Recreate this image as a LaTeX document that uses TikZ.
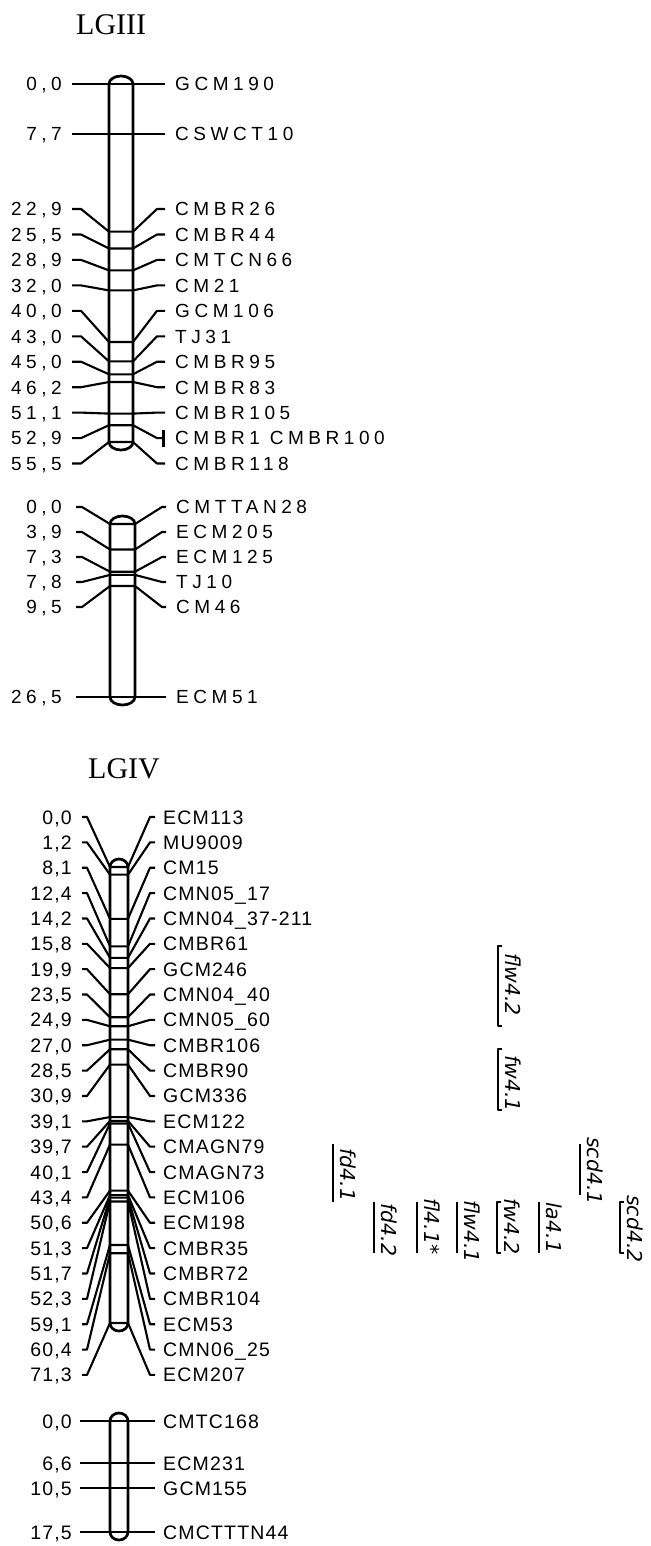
\documentclass[tikz,border=0pt]{standalone}
\usepackage{fontspec}
\setmainfont{Liberation Serif}
\newfontfamily\labIII[LetterSpace=24]{Liberation Sans}
\newfontfamily\labIV[LetterSpace=6]{Liberation Sans}
\newfontfamily\qtlf{DejaVu Sans}
\newcommand\chromo[5]{%
  \draw[chr] (#1,-#3) -- (#1,-#4)
    arc[start angle=180, end angle=360, x radius={(#2-#1)/2}, y radius=#5]
    -- (#2,-#3)
    arc[start angle=0, end angle=180, x radius={(#2-#1)/2}, y radius=#5] -- cycle;}
\newcommand\mkr[6]{%
  \node[#6, anchor=east] (#1L) at (\TL,{-(#2)}) {#4};
  \node[#6, anchor=west] (#1R) at (\TR,{-(#2)}) {#5};
  \coordinate (#1a) at (\XLo,{-(#2)});
  \coordinate (#1b) at (\XRo,{-(#2)});
  \draw[mline] (#1a) -- (\XLb,{-(#2)}) -- (\XCa,{-(#3)}) -- (\XCb,{-(#3)}) -- (\XRb,{-(#2)}) -- (#1b);}
\newcommand\qtl[6]{%
  \coordinate (#1t) at (#2,-#3);
  \coordinate (#1b) at (#2,-#4);
  \draw[qbar] (#1t) -- (#1b);
  \node[qtext, anchor=base west, rotate=-90] (#1) at ({#2+7},-#5) {#6};}
\newcommand\qtlb[6]{%
  \coordinate (#1t) at (#2,-#3);
  \coordinate (#1b) at (#2,-#4);
  \draw[qbar] ([xshift=4pt]#1t) -- (#1t) -- (#1b) -- ([xshift=4pt]#1b);
  \node[qtext, anchor=base west, rotate=-90] (#1) at ({#2+7},-#5) {#6};}
\begin{document}
\begin{tikzpicture}[x=1pt,y=1pt,line join=round,
  chr/.style={line width=2.7pt},
  mline/.style={line width=2.1pt},
  qbar/.style={line width=2.2pt},
  labA/.style={font=\labIII\fontsize{19}{21}\selectfont, inner sep=0pt, text height=13.6pt, text depth=0pt, text=black},
  labB/.style={font=\labIV\fontsize{19.5}{21}\selectfont, inner sep=0pt, text height=14pt, text depth=0pt, text=black},
  qtext/.style={font=\qtlf\itshape\fontsize{20.5}{24}\selectfont, inner sep=0pt},
  title/.style={font=\fontsize{30}{32}\selectfont, inner sep=0pt, anchor=base west}]
\useasboundingbox (0,0) rectangle (650,-1546);
\fill[white] (0,0) rectangle (650,-1546);
% titles
\node[title] (t3) at (76,-35) {LGIII};
\node[title] (t4) at (88,-778) {LGIV};
% ---------- LGIII, group 1
\def\XLo{72}\def\XLb{81}\def\XCa{109}\def\XCb{133}\def\XRb{157}\def\XRo{165}\def\TL{62}\def\TR{175}
\mkr{a1}{84}{84}{0,0}{GCM190}{labA}
\mkr{a2}{133.7}{133.7}{7,7}{CSWCT10}{labA}
\mkr{a3}{209}{231.7}{22,9}{CMBR26}{labA}
\mkr{a4}{234.5}{248.5}{25,5}{CMBR44}{labA}
\mkr{a5}{259.9}{270.4}{28,9}{CMTCN66}{labA}
\mkr{a6}{285.4}{290.4}{32,0}{CM21}{labA}
\mkr{a7}{310.8}{342}{40,0}{GCM106}{labA}
\mkr{a8}{336.3}{361.4}{43,0}{TJ31}{labA}
\mkr{a9}{361.7}{374.3}{45,0}{CMBR95}{labA}
\mkr{a10}{387.2}{382}{46,2}{CMBR83}{labA}
\mkr{a11}{412.6}{413.6}{51,1}{CMBR105}{labA}
\def\XRo{163}
\mkr{a12}{438.1}{425.2}{52,9}{CMBR1 CMBR100}{labA}
\coordinate (tk1) at (163.5,-430);
\coordinate (tk2) at (163.5,-447);
\draw[mline] (tk1) -- (tk2);
\def\XRo{165}
\mkr{a13}{463.5}{442}{55,5}{CMBR118}{labA}
\chromo{109}{133}{84}{442}{8}
% ---------- LGIII, group 2
\def\XLo{76}\def\XLb{82}\def\XCa{110}\def\XCb{135}\def\XRb{162}\def\XRo{166}\def\TL{62}\def\TR{176}
\mkr{b1}{507}{524}{0,0}{CMTTAN28}{labA}
\mkr{b2}{532}{549.5}{3,9}{ECM205}{labA}
\mkr{b3}{557}{571.7}{7,3}{ECM125}{labA}
\mkr{b4}{582}{574.9}{7,8}{TJ10}{labA}
\mkr{b5}{607}{586}{9,5}{CM46}{labA}
\mkr{b6}{697}{697}{26,5}{ECM51}{labA}
\chromo{110}{135}{524}{697}{8}
% ---------- LGIV, group 1
\def\XLo{82}\def\XLb{87}\def\XCa{110}\def\XCb{128}\def\XRb{150}\def\XRo{155}\def\TL{72}\def\TR{163}
\mkr{c0}{817+25.36*0}{867+6.395*0}{0,0}{ECM113}{labB}
\mkr{c1}{817+25.36*1}{867+6.395*1.2}{1,2}{MU9009}{labB}
\mkr{c2}{817+25.36*2}{867+6.395*8.1}{8,1}{CM15}{labB}
\mkr{c3}{817+25.36*3}{867+6.395*12.4}{12,4}{CMN05\_17}{labB}
\mkr{c4}{817+25.36*4}{867+6.395*14.2}{14,2}{CMN04\_37-211}{labB}
\mkr{c5}{817+25.36*5}{867+6.395*15.8}{15,8}{CMBR61}{labB}
\mkr{c6}{817+25.36*6}{867+6.395*19.9}{19,9}{GCM246}{labB}
\mkr{c7}{817+25.36*7}{867+6.395*23.5}{23,5}{CMN04\_40}{labB}
\mkr{c8}{817+25.36*8}{867+6.395*24.9}{24,9}{CMN05\_60}{labB}
\mkr{c9}{817+25.36*9}{867+6.395*27.0}{27,0}{CMBR106}{labB}
\mkr{c10}{817+25.36*10}{867+6.395*28.5}{28,5}{CMBR90}{labB}
\mkr{c11}{817+25.36*11}{867+6.395*30.9}{30,9}{GCM336}{labB}
\mkr{c12}{817+25.36*12}{867+6.395*39.1}{39,1}{ECM122}{labB}
\mkr{c13}{817+25.36*13}{867+6.395*39.7}{39,7}{CMAGN79}{labB}
\mkr{c14}{817+25.36*14}{867+6.395*40.1}{40,1}{CMAGN73}{labB}
\mkr{c15}{817+25.36*15}{867+6.395*43.4}{43,4}{ECM106}{labB}
\mkr{c16}{817+25.36*16}{867+6.395*50.6}{50,6}{ECM198}{labB}
\mkr{c17}{817+25.36*17}{867+6.395*51.3}{51,3}{CMBR35}{labB}
\mkr{c18}{817+25.36*18}{867+6.395*51.7}{51,7}{CMBR72}{labB}
\mkr{c19}{817+25.36*19}{867+6.395*52.3}{52,3}{CMBR104}{labB}
\mkr{c20}{817+25.36*20}{867+6.395*59.1}{59,1}{ECM53}{labB}
\mkr{c21}{817+25.36*21}{867+6.395*60.4}{60,4}{CMN06\_25}{labB}
\mkr{c22}{817+25.36*22}{867+6.395*71.3}{71,3}{ECM207}{labB}
\chromo{110}{128}{867}{1323}{8}
% ---------- LGIV, group 2
\def\XLo{80}\def\XLb{80}\def\XCa{110}\def\XCb{128}\def\XRb{155}\def\XRo{155}\def\TL{72}\def\TR{163}
\mkr{d1}{1421}{1421}{0,0}{CMTC168}{labB}
\mkr{d2}{1463}{1463}{6,6}{ECM231}{labB}
\mkr{d3}{1488}{1488}{10,5}{GCM155}{labB}
\mkr{d4}{1532}{1532}{17,5}{CMCTTTN44}{labB}
\chromo{110}{128}{1421}{1532}{8}
% ---------- QTL
\qtlb{q1}{498}{946}{1026}{953}{flw4.2}
\qtlb{q2}{498}{1049}{1110}{1055}{fw4.1}
\qtl{q3}{333}{1144}{1202}{1148}{fd4.1}
\qtl{q4}{580}{1144}{1195}{1137}{scd4.1}
\qtl{q5}{374}{1202}{1253}{1203}{fd4.2}
\qtl{q6}{417}{1202}{1253}{1198}{fl4.1*}
\qtl{q7}{457}{1202}{1253}{1200}{flw4.1}
\qtlb{q8}{497}{1202}{1253}{1198}{fw4.2}
\qtl{q9}{539}{1202}{1253}{1202}{la4.1}
\qtlb{q10}{620}{1202}{1253}{1195}{scd4.2}
\end{tikzpicture}
\end{document}
